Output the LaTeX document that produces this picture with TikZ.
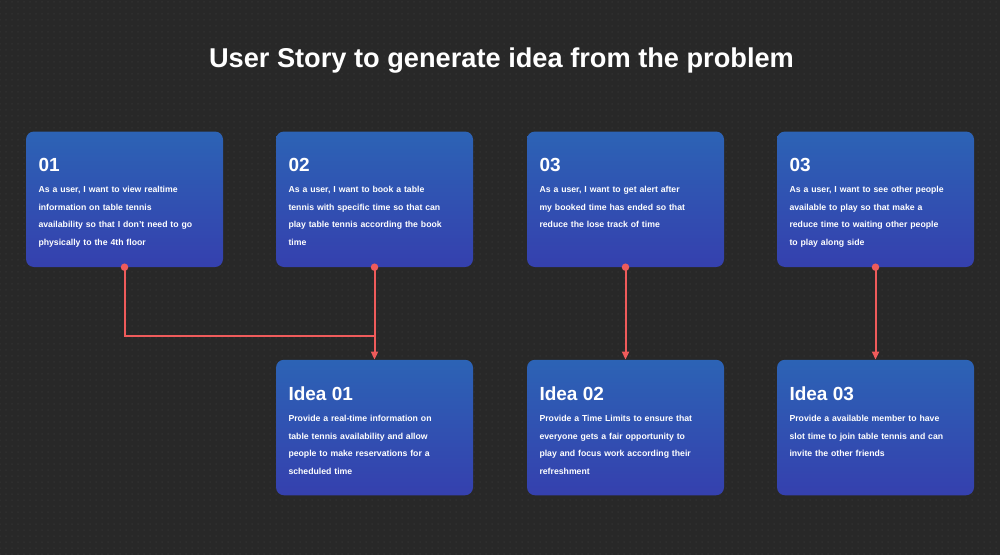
\documentclass[tikz,border=0pt]{standalone}
\usepackage{fontspec}
\setmainfont{Liberation Sans}
\usetikzlibrary{calc,arrows.meta,patterns}

\definecolor{bgc}{HTML}{282828}
\definecolor{dotc}{HTML}{353535}
\definecolor{btop}{HTML}{2C63B5}
\definecolor{bbot}{HTML}{3540AE}
\definecolor{connc}{HTML}{EF5B5B}

\pgfdeclarepatternformonly{griddots}{\pgfqpoint{-1pt}{-1pt}}{\pgfqpoint{1pt}{1pt}}{\pgfqpoint{6pt}{6pt}}{\pgfpathcircle{\pgfqpoint{0pt}{0pt}}{0.75pt}\pgfusepath{fill}}

\tikzset{
  card/.style={rectangle, rounded corners=8pt, minimum width=197pt, minimum height=135.5pt,
    inner sep=0pt, top color=btop, bottom color=bbot, draw=none},
  cardnum/.style={anchor=base west, inner sep=0pt, text=white,
    font=\fontsize{19}{22}\selectfont\bfseries},
  cardtext/.style={anchor=base west, inner sep=0pt, text=white, align=left, text width=185pt,
    font=\fontsize{8.7}{17.5}\selectfont\bfseries},
  connline/.style={draw=connc, line width=2pt},
  conndot/.style={circle, fill=connc, inner sep=0pt, minimum size=7.5pt},
  connarrow/.style={connline, -{Triangle[length=8pt, width=7pt]}},
}

\begin{document}
\begin{tikzpicture}[x=1pt, y=-1pt]
\useasboundingbox (0,0) rectangle (1000,554);
\fill[bgc] (-5,-5) rectangle (1005,560);
\fill[pattern=griddots, pattern color=dotc] (-5,-5) rectangle (1005,560);

% title
\node[anchor=base, inner sep=0pt, text=white, font=\fontsize{27.2}{30}\selectfont\bfseries]
  (title) at (501.5,67) {User Story to generate idea from the problem};

% story cards
\node[card] (s1) at (124.5,199.25) {};
\node[card] (s2) at (374.5,199.25) {};
\node[card] (s3) at (625.5,199.25) {};
\node[card] (s4) at (875.5,199.25) {};

% idea cards
\node[card] (i1) at (374.5,427.5) {};
\node[card] (i2) at (625.5,427.5) {};
\node[card] (i3) at (875.5,427.5) {};

% story texts
\node[cardnum] (s1n) at ($(s1.north west)+(12.5,40.5)$) {01};
\node[cardtext] (s1t) at ($(s1.north west)+(12.5,61.5)$)
  {As a user, I want to view realtime\\information on table tennis\\availability so that I don’t need to go\\physically to the 4th floor};

\node[cardnum] (s2n) at ($(s2.north west)+(12.5,40.5)$) {02};
\node[cardtext] (s2t) at ($(s2.north west)+(12.5,61.5)$)
  {As a user, I want to book a table\\tennis with specific time so that can\\play table tennis according the book\\time};

\node[cardnum] (s3n) at ($(s3.north west)+(12.5,40.5)$) {03};
\node[cardtext] (s3t) at ($(s3.north west)+(12.5,61.5)$)
  {As a user, I want to get alert after\\my booked time has ended so that\\reduce the lose track of time};

\node[cardnum] (s4n) at ($(s4.north west)+(12.5,40.5)$) {03};
\node[cardtext] (s4t) at ($(s4.north west)+(12.5,61.5)$)
  {As a user, I want to see other people\\available to play so that make a\\reduce time to waiting other people\\to play along side};

% idea texts
\node[cardnum] (i1n) at ($(i1.north west)+(12.5,41)$) {Idea 01};
\node[cardtext] (i1t) at ($(i1.north west)+(12.5,62)$)
  {Provide a real-time information on\\table tennis availability and allow\\people to make reservations for a\\scheduled time};

\node[cardnum] (i2n) at ($(i2.north west)+(12.5,41)$) {Idea 02};
\node[cardtext] (i2t) at ($(i2.north west)+(12.5,62)$)
  {Provide a Time Limits to ensure that\\everyone gets a fair opportunity to\\play and focus work according their\\refreshment};

\node[cardnum] (i3n) at ($(i3.north west)+(12.5,41)$) {Idea 03};
\node[cardtext] (i3t) at ($(i3.north west)+(12.5,62)$)
  {Provide a available member to have\\slot time to join table tennis and can\\invite the other friends};

% connectors
\coordinate (j1) at ($(i1.north)+(0,-24)$);
\draw[connline] (s1.south) |- (j1);
\draw[connarrow] (s2.south) -- (i1.north);
\draw[connarrow] (s3.south) -- (i2.north);
\draw[connarrow] (s4.south) -- (i3.north);
\node[conndot] (d1) at (s1.south) {};
\node[conndot] (d2) at (s2.south) {};
\node[conndot] (d3) at (s3.south) {};
\node[conndot] (d4) at (s4.south) {};
\end{tikzpicture}
\end{document}
